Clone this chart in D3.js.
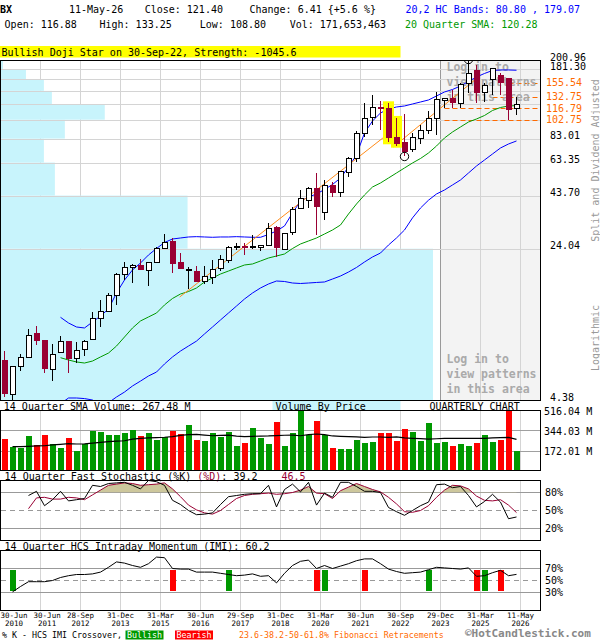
<!DOCTYPE html>
<html><head><meta charset="utf-8">
<script src="https://cdn.jsdelivr.net/npm/d3@7/dist/d3.min.js"></script>
<style>
html,body{margin:0;padding:0;background:#fff;}
svg{display:block;}
text{font-family:"DejaVu Sans Mono","Liberation Mono",monospace;}
</style></head><body>
<svg id="chart" width="600" height="640"></svg>
<script>
// ---------------- DATA ----------------
const quarters = ["2010Q2","2010Q3","2010Q4","2011Q1","2011Q2","2011Q3","2011Q4","2012Q1","2012Q2","2012Q3","2012Q4","2013Q1","2013Q2","2013Q3","2013Q4","2014Q1","2014Q2","2014Q3","2014Q4","2015Q1","2015Q2","2015Q3","2015Q4","2016Q1","2016Q2","2016Q3","2016Q4","2017Q1","2017Q2","2017Q3","2017Q4","2018Q1","2018Q2","2018Q3","2018Q4","2019Q1","2019Q2","2019Q3","2019Q4","2020Q1","2020Q2","2020Q3","2020Q4","2021Q1","2021Q2","2021Q3","2021Q4","2022Q1","2022Q2","2022Q3","2022Q4","2023Q1","2023Q2","2023Q3","2023Q4","2024Q1","2024Q2","2024Q3","2024Q4","2025Q1","2025Q2","2025Q3","2025Q4","2026Q1","2026Q2"];
const open  = [6.87,4.67,6.35,7.08,9.28,8.60,6.16,7.49,8.48,6.97,7.75,8.67,10.99,11.88,14.23,17.94,19.50,20.01,18.85,20.54,24.15,26.30,20.63,19.00,18.64,16.58,17.35,19.28,21.00,24.50,24.78,24.30,24.32,25.06,30.85,23.69,28.91,37.88,41.12,47.44,36.21,49.24,45.36,56.80,65.97,87.40,104.70,118.06,117.52,84.77,79.62,73.58,83.27,90.40,104.30,127.14,131.52,123.48,154.64,179.61,139.10,160.49,169.78,163.59,116.88];
const high  = [7.60,6.40,7.33,9.74,10.07,8.62,8.23,9.00,8.50,8.41,8.60,11.79,13.50,14.55,18.23,20.76,20.24,21.34,20.65,24.58,28.27,27.21,22.98,19.60,19.84,19.73,21.17,22.40,24.78,25.72,25.55,28.05,25.00,32.00,31.04,28.78,38.56,46.54,48.29,56.16,51.79,51.09,57.30,67.69,90.40,123.48,135.57,126.70,123.48,104.70,109.46,88.10,96.72,113.22,140.67,131.52,143.41,154.64,200.96,190.00,154.64,183.50,173.06,163.80,133.25];
const low   = [4.55,4.40,6.09,7.05,8.13,5.96,5.44,7.47,5.96,6.62,7.21,8.65,9.93,11.85,12.76,16.90,16.29,18.83,15.85,20.50,23.87,18.35,19.10,15.30,16.55,16.16,16.16,18.64,20.40,23.69,22.40,24.00,23.43,25.00,21.97,23.65,28.05,37.80,37.88,28.05,33.21,42.87,42.87,53.87,63.78,84.77,96.72,91.43,79.62,76.62,67.87,71.00,77.84,87.11,86.43,116.72,116.72,117.52,138.19,123.90,125.90,135.57,135.57,102.32,108.80];
const close = [4.69,6.35,7.08,9.07,8.53,6.23,7.33,8.48,6.97,7.66,8.48,10.99,11.92,14.23,18.08,19.50,19.79,18.85,20.63,24.04,25.84,20.31,19.13,19.10,16.58,17.68,18.92,21.17,24.43,24.58,24.15,24.60,24.98,30.24,24.15,28.59,37.16,42.06,47.44,38.56,48.68,45.15,57.17,65.97,87.40,103.48,117.52,116.72,83.85,77.84,71.15,83.85,90.40,104.30,129.16,130.65,123.48,152.91,173.06,138.66,150.00,183.07,154.64,114.99,121.40];
const volumeM = [273,205,196,297,219,305,225,196,280,170,225,342,331,308,308,322,348,297,322,262,286,342,314,391,262,254,322,288,331,211,236,366,280,228,420,211,322,520,305,428,308,194,185,185,262,236,245,322,322,256,357,331,256,408,236,245,211,228,211,236,305,245,265,520,171.65];
const volSma14 = [null,205,205,208,211,213,220,225,231,228,229,236,242,248,252,256,270,276,280,283,286,292,302,308,310,305,299,302,305,295,291,294,296,297,300,303,305,299,308,314,308,297,294,292,290,285,288,288,285,290,280,277,274,270,273,277,277,277,277,277,277,280,282,285,267.48];
const bandUpper = [null,null,null,null,null,null,null,11.11,10.42,9.96,9.85,10.54,11.27,12.20,14.60,16.90,18.92,20.47,22.40,24.09,25.78,26.81,27.12,27.43,27.53,27.43,27.33,27.43,27.43,27.53,27.43,27.33,27.33,28.21,29.34,31.04,35.93,41.12,43.01,44.49,46.80,49.51,53.27,60.29,69.01,88.40,101.17,110.71,115.80,118.44,119.78,122.51,125.29,128.15,134.05,140.22,144.22,150.01,157.76,166.00,172.67,178.60,179.61,179.61,179.07];
const sma20 = [null,null,null,null,null,null,null,7.05,6.87,6.72,6.64,6.79,7.11,7.43,8.04,8.90,9.85,10.66,11.15,11.66,12.76,13.73,14.44,14.85,15.45,16.53,17.29,18.08,18.70,19.35,20.01,20.24,20.93,21.65,22.14,22.65,24.09,25.35,26.22,27.12,28.36,29.67,31.39,35.53,39.76,44.00,48.14,50.36,53.27,56.36,59.62,63.07,66.34,70.58,76.36,83.56,89.39,94.57,100.04,103.48,107.63,113.87,117.76,119.78,120.28];
const bandLower = [null,null,null,null,null,null,null,4.20,4.48,4.48,4.45,4.38,4.10,4.25,4.53,4.79,5.13,5.42,5.74,6.00,6.57,7.11,7.60,8.04,8.50,9.21,9.96,10.78,11.66,12.61,13.65,14.60,15.45,16.16,16.71,16.62,16.34,16.25,16.34,16.44,16.53,17.09,17.68,18.49,19.46,20.70,21.90,22.90,25.06,27.12,29.67,34.00,38.00,41.50,44.50,46.54,49.24,52.09,56.36,60.97,65.23,69.79,74.67,78.10,80.80];
const trendA = [[21.9,13.96],[47.3,83.56]];
const trendB = [[48.6,75.5],[59.4,167.9]];
const fibLevels = [155.54,132.75,116.79,102.75];
const fibStartIdx = [63,61,55,55];
const priceGrid = [4.38,24.04,43.70,63.35,83.01,102.67,122.33,141.98,161.64,181.30,200.96];
const priceLabels = [4.38,24.04,43.70,63.35,83.01,181.30,200.96];
const vbpVolume = [433,187,54,43,64,104,51,43,25,2];
const patternIdx = [48,49];
const swingHighIdx = 58, swingLowIdx = 50;
const volTicks = [172.01,344.03,516.04];
const stochK = [null,null,null,75,82,58,68,82,66,68,70,92,90,95,96,97,92,86,100,98,92,67,60,50,43,44,46,60,73,75,77,78,78,92,56,85,94,81,97,59,79,72,97,97,90,82,82,80,55,48,42,50,58,64,93,94,88,90,75,56,65,77,64,36.3,39.2];
const stochD = [null,null,null,53,71,72,69,69,72,71,68,76,84,92,94,96,95,92,93,94,96,86,73,59,51,46,44,50,60,70,75,77,78,79,77,78,80,84,90,79,78,70,83,89,95,90,85,81,72,61,48,47,50,58,72,84,92,91,86,74,67,66,68,59,46.5];
const imi = [null,31,40,48,48,48,50,55,58,60,60,61,64,72,81,79,75,72,78,89,88,70,69,69,64,64,64,62,60,58,59,61,57,58,46,62,75,82,84,70,75,70,74,78,83,86,86,78,69,65,62,63,64,68,72,71,70,69,71,57,58,63,67,58,60.2];
const bullishX = [1,28,40,53,60];
const bearishX = [21,39,45,59,62];
const xTickIdx = [0,4,9,14,19,24,29,34,39,44,49,54,59,64];
const xTickDay = ["30-Jun","30-Jun","28-Sep","31-Dec","31-Mar","30-Jun","29-Sep","31-Dec","31-Mar","30-Jun","30-Sep","29-Dec","31-Mar","11-May"];
const xTickYear = ["2010","2011","2012","2013","2015","2016","2017","2018","2020","2021","2022","2023","2025","2026"];
const loginAreaIdx = 54;

// ---------------- SCALES ----------------
const svg = d3.select('#chart');
const N = quarters.length;
const x = d3.scaleLinear().domain([0, N-1]).range([4.5, 516.5]);
const yP = d3.scaleLog().domain([4.38, 200.96]).range([400, 60]);
const yV = d3.scaleLinear().domain([0, 516.04]).range([470.5, 410.5]);
const yS = d3.scaleLinear().domain([0, 100]).range([540.5, 480.5]);
const yI = d3.scaleLinear().domain([0, 100]).range([610.5, 550.5]);
const wVbp = d3.scaleLinear().domain([0, d3.max(vbpVolume)]).range([0, 432]);
const gridX = xTickIdx.slice(1).map(i => x(i) + 4);
const GREEN = '#009900', RED = '#ff0000', DRED = '#990033', BLUE = '#0000ff', ORANGE = '#ff6a00';

svg.append('rect').attr('width',600).attr('height',640).attr('fill','#fff');
const defs = svg.append('defs');
defs.append('clipPath').attr('id','cMain').append('rect').attr('x',1).attr('y',61).attr('width',539).attr('height',339);
defs.append('clipPath').attr('id','cVol').append('rect').attr('x',1).attr('y',411).attr('width',539).attr('height',59);
defs.append('clipPath').attr('id','cAbove80').append('rect').attr('x',1).attr('y',481).attr('width',539).attr('height',yS(80)-481);

function txt(g, xx, yy, s, opt={}) {
  const t = g.append('text').attr('x',xx).attr('y',yy).attr('font-size',opt.size||10)
    .attr('fill',opt.fill||'#000').style('white-space','pre').text(s);
  if (opt.anchor) t.attr('text-anchor',opt.anchor);
  if (opt.weight) t.attr('font-weight',opt.weight);
  return t;
}

// ---------------- HEADER ----------------
txt(svg,0,13,'BX',{weight:'bold'});
txt(svg,69,13,'11-May-26');
txt(svg,144.7,13,'Close: 121.40');
txt(svg,249.5,13,'Change: 6.41 {+5.6 %}');
txt(svg,405.5,13,'20,2 HC Bands: 80.80 , 179.07',{fill:BLUE});
txt(svg,4.6,28,'Open: 116.88');
txt(svg,99.5,28,'High: 133.25');
txt(svg,199.8,28,'Low: 108.80');
txt(svg,289.7,28,'Vol: 171,653,463');
txt(svg,405,28,'20 Quarter SMA: 120.28',{fill:GREEN});
svg.append('rect').attr('x',0).attr('y',46).attr('width',400.5).attr('height',11.5).attr('fill','#ffff00');
txt(svg,1.5,55.5,'Bullish Doji Star on 30-Sep-22, Strength: -1045.6');

// ---------------- MAIN PANEL ----------------
const main = svg.append('g');
main.append('rect').attr('x',x(loginAreaIdx)+4).attr('y',60.5).attr('width',540.5-(x(loginAreaIdx)+4)).attr('height',340).attr('fill','#f3f3f3');
main.selectAll('.vg').data(gridX).enter().append('line')
  .attr('x1',d=>d).attr('x2',d=>d).attr('y1',60.5).attr('y2',400.5)
  .attr('stroke',d=>Math.abs(d-(x(loginAreaIdx)+4))<0.1?'#999':'#d4d4d4');
main.selectAll('.vbp').data(vbpVolume).enter().append('rect')
  .attr('x',1).attr('y',(d,k)=>yP(priceGrid[k+1])).attr('width',d=>wVbp(d))
  .attr('height',(d,k)=>yP(priceGrid[k])-yP(priceGrid[k+1])).attr('fill','#c8f4fc');
main.selectAll('.hg').data(priceGrid).enter().append('line')
  .attr('x1',1).attr('x2',540).attr('y1',d=>Math.round(yP(d))+0.5).attr('y2',d=>Math.round(yP(d))+0.5)
  .attr('stroke','#d4d4d4');
const mc = main.append('g').attr('clip-path','url(#cMain)');
fibLevels.forEach((v,k)=>{
  mc.append('line').attr('x1',x(fibStartIdx[k])).attr('x2',540).attr('y1',Math.round(yP(v))+0.5).attr('y2',Math.round(yP(v))+0.5)
    .attr('stroke',ORANGE).attr('stroke-dasharray','5,3');
});
[[70.5,'Log in to'],[86,'view patterns'],[101,'in this area'],[363,'Log in to'],[378,'view patterns'],[393,'in this area']].forEach(d=>{
  txt(mc,446.5,d[0],d[1],{size:11.5,weight:'bold',fill:'#aaaaaa'});
});
const lineGen = d3.line().defined(d=>d[1]!=null).x(d=>x(d[0])).y(d=>yP(d[1]));
const idxSeries = arr => arr.map((v,i)=>[i,v]);
mc.append('path').attr('d',lineGen(idxSeries(sma20))).attr('fill','none').attr('stroke',GREEN).attr('stroke-width',1);
mc.append('path').attr('d',lineGen(idxSeries(bandUpper))).attr('fill','none').attr('stroke',BLUE).attr('stroke-width',1);
mc.append('path').attr('d',lineGen(idxSeries(bandLower))).attr('fill','none').attr('stroke',BLUE).attr('stroke-width',1);
[trendA,trendB].forEach(t=>{
  mc.append('path').attr('d',lineGen(t)).attr('fill','none').attr('stroke','#ff8c1a').attr('stroke-width',1);
});
patternIdx.forEach(i=>{
  mc.append('rect').attr('x',x(i)-5.5).attr('width',11).attr('y',yP(high[i])-2).attr('height',yP(low[i])-yP(high[i])+4).attr('fill','#ffff00');
});
const cg = mc.append('g').attr('shape-rendering','crispEdges');
d3.range(N).forEach(i=>{
  const up = close[i] >= open[i];
  const col = up ? '#000' : DRED;
  cg.append('line').attr('x1',x(i)).attr('x2',x(i)).attr('y1',yP(high[i])).attr('y2',yP(low[i])).attr('stroke',col);
  const top = yP(Math.max(open[i],close[i])), bot = yP(Math.min(open[i],close[i]));
  if (up) {
    cg.append('rect').attr('x',x(i)-2.5).attr('width',5).attr('y',top).attr('height',Math.max(bot-top,1)).attr('fill','#fff').attr('stroke','#000');
  } else {
    cg.append('rect').attr('x',x(i)-3).attr('width',6).attr('y',top).attr('height',Math.max(bot-top,1.5)).attr('fill',DRED);
  }
});
mc.append('circle').attr('cx',x(swingHighIdx)).attr('cy',yP(high[swingHighIdx])-0.5).attr('r',4.2).attr('fill','none').attr('stroke','#000');
mc.append('circle').attr('cx',x(swingLowIdx)).attr('cy',yP(low[swingLowIdx])).attr('r',4.2).attr('fill','none').attr('stroke','#000');
main.append('rect').attr('x',0.5).attr('y',60.5).attr('width',540).attr('height',340).attr('fill','none').attr('stroke','#000');
priceLabels.forEach(v=>{ txt(svg,550,yP(v)+0.5,v.toFixed(2)); });
fibLevels.forEach(v=>{ txt(svg,546,yP(v)+3.5,v.toFixed(2),{fill:ORANGE}); });
svg.append('text').attr('transform','translate(599,160.5) rotate(-90)').attr('text-anchor','middle')
  .attr('font-size',10).attr('fill','#999').text('Split and Dividend Adjusted');
svg.append('text').attr('transform','translate(599,338) rotate(-90)').attr('text-anchor','middle')
  .attr('font-size',10).attr('fill','#999').text('Logarithmic');

// ---------------- VOLUME PANEL ----------------
txt(svg,3.8,409.5,'14 Quarter SMA Volume: 267.48 M');
svg.append('rect').attr('x',272.5).attr('y',401).attr('width',128).attr('height',9.5).attr('fill','#c8f4fc');
txt(svg,275.5,409.5,'Volume By Price');
txt(svg,429.4,409.5,'QUARTERLY CHART');
const vp = svg.append('g');
vp.selectAll('.vg').data(gridX).enter().append('line').attr('x1',d=>d).attr('x2',d=>d).attr('y1',410.5).attr('y2',470.5).attr('stroke','#d4d4d4');
vp.selectAll('.hg').data(volTicks.slice(0,2)).enter().append('line').attr('x1',1).attr('x2',540)
  .attr('y1',d=>Math.round(yV(d))+0.5).attr('y2',d=>Math.round(yV(d))+0.5).attr('stroke','#a0a0a0');
const vc = vp.append('g').attr('clip-path','url(#cVol)').attr('shape-rendering','crispEdges');
vc.selectAll('.vb').data(volumeM).enter().append('rect')
  .attr('x',(d,i)=>x(i)-3).attr('width',6).attr('y',d=>yV(d)).attr('height',d=>yV(0)-yV(d))
  .attr('fill',(d,i)=>close[i]>=open[i]?GREEN:RED);
vp.append('path').attr('d',d3.line().defined(d=>d[1]!=null).x(d=>x(d[0])).y(d=>yV(d[1]))(idxSeries(volSma14)))
  .attr('fill','none').attr('stroke','#000').attr('stroke-width',1.2);
vp.append('rect').attr('x',0.5).attr('y',410.5).attr('width',540).attr('height',60).attr('fill','none').attr('stroke','#000');
volTicks.forEach(v=>{ txt(svg,544,yV(v)+4.5,v.toFixed(2)+' M'); });

// ---------------- STOCHASTIC ----------------
const stl = txt(svg,4.6,479.5,'14 Quarter Fast Stochastic (%K) ');
stl.append('tspan').attr('fill',DRED).text('(%D)');
stl.append('tspan').attr('fill','#000').text(': 39.2    ');
stl.append('tspan').attr('fill',DRED).text('46.5');
const sp = svg.append('g');
sp.selectAll('.vg').data(gridX).enter().append('line').attr('x1',d=>d).attr('x2',d=>d).attr('y1',480.5).attr('y2',540.5).attr('stroke','#d4d4d4');
[80,20].forEach(v=>sp.append('line').attr('x1',1).attr('x2',540).attr('y1',yS(v)).attr('y2',yS(v)).attr('stroke','#999'));
sp.append('line').attr('x1',1).attr('x2',540).attr('y1',yS(50)).attr('y2',yS(50)).attr('stroke','#999').attr('stroke-dasharray','5,4');
const dSeries = idxSeries(stochD);
sp.append('path').attr('clip-path','url(#cAbove80)')
  .attr('d',d3.area().defined(d=>d[1]!=null).x(d=>x(d[0])).y0(yS(80)).y1(d=>yS(d[1]))(dSeries))
  .attr('fill','#cdc79c');
const sLine = d3.line().defined(d=>d[1]!=null).x(d=>x(d[0])).y(d=>yS(d[1]));
sp.append('path').attr('d',sLine(dSeries)).attr('fill','none').attr('stroke',DRED).attr('stroke-width',1);
sp.append('path').attr('d',sLine(idxSeries(stochK))).attr('fill','none').attr('stroke','#000').attr('stroke-width',1);
sp.append('rect').attr('x',0.5).attr('y',480.5).attr('width',540).attr('height',60).attr('fill','none').attr('stroke','#000');
[80,50,20].forEach(v=>txt(svg,545,yS(v)+3.5,v+'%'));

// ---------------- IMI ----------------
txt(svg,4.6,549.5,'14 Quarter HCS Intraday Momentum (IMI): 60.2');
const ip = svg.append('g');
ip.selectAll('.vg').data(gridX).enter().append('line').attr('x1',d=>d).attr('x2',d=>d).attr('y1',550.5).attr('y2',610.5).attr('stroke','#d4d4d4');
[70,30].forEach(v=>ip.append('line').attr('x1',1).attr('x2',540).attr('y1',yI(v)).attr('y2',yI(v)).attr('stroke','#999'));
ip.append('line').attr('x1',1).attr('x2',540).attr('y1',yI(50)).attr('y2',yI(50)).attr('stroke','#999').attr('stroke-dasharray','5,4');
const xb = ip.append('g').attr('shape-rendering','crispEdges');
bullishX.forEach(i=>xb.append('rect').attr('x',x(i)-3).attr('width',6).attr('y',yI(67)).attr('height',yI(32)-yI(67)).attr('fill',GREEN));
bearishX.forEach(i=>xb.append('rect').attr('x',x(i)-3).attr('width',6).attr('y',yI(67)).attr('height',yI(32)-yI(67)).attr('fill',RED));
ip.append('path').attr('d',d3.line().defined(d=>d[1]!=null).x(d=>x(d[0])).y(d=>yI(d[1]))(idxSeries(imi)))
  .attr('fill','none').attr('stroke','#000').attr('stroke-width',1);
ip.append('rect').attr('x',0.5).attr('y',550.5).attr('width',540).attr('height',60).attr('fill','none').attr('stroke','#000');
[70,50,30].forEach(v=>txt(svg,545,yI(v)+3.5,v+'%'));

// ---------------- X AXIS ----------------
const LBL = 7.5, halfW = 6*LBL*0.602/2;
let prevRight = -10;
xTickIdx.forEach((t,j)=>{
  let cx = Math.max(x(t)+4, halfW + 0.5, prevRight + 6 + halfW);
  prevRight = cx + halfW;
  txt(svg,cx,618,xTickDay[j],{size:LBL,anchor:'middle'});
  txt(svg,cx,626,xTickYear[j],{size:LBL,anchor:'middle'});
});

// ---------------- FOOTER ----------------
txt(svg,2,637.5,'% K - HCS IMI Crossover,',{size:8.3});
svg.append('rect').attr('x',125.5).attr('y',630.5).attr('width',38).attr('height',9).attr('fill',GREEN);
txt(svg,127,637.5,'Bullish',{size:8.3,fill:'#fff'});
svg.append('rect').attr('x',175).attr('y',630.5).attr('width',38).attr('height',9).attr('fill',RED);
txt(svg,176.5,637.5,'Bearish',{size:8.3,fill:'#fff'});
txt(svg,239,637.5,'23.6-38.2-50-61.8% Fibonacci Retracements',{size:8.3,fill:ORANGE});
txt(svg,465,637,'\u00a9HotCandlestick.com',{size:11,weight:'bold',fill:'#888'});
</script></body></html>
